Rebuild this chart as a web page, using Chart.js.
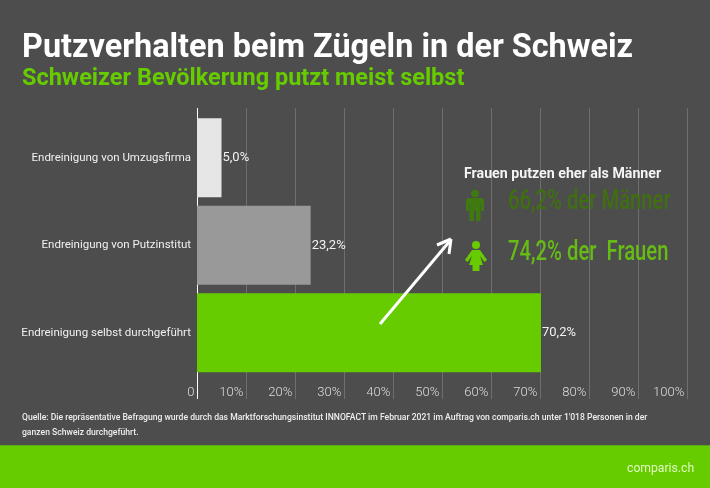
<!DOCTYPE html>
<html>
<head>
<meta charset="utf-8">
<script src="https://cdn.jsdelivr.net/npm/chart.js@4"></script>
<style>
html, body { margin: 0; padding: 0; }
#page { position: relative; width: 710px; height: 488px; background: #4d4d4d; overflow: hidden; font-family: Roboto, sans-serif; }
#page canvas { position: absolute; left: 0; top: 0; }
.txt { position: absolute; white-space: nowrap; }
#title { left: 22px; top: 24px; font-size: 32.4px; font-weight: 700; color: #fff; line-height: 44px; }
#subtitle { left: 22px; top: 62px; font-size: 23.5px; font-weight: 700; color: #66cc00; line-height: 30px; }
#head2 { left: 464px; top: 164px; font-size: 14.2px; font-weight: 700; color: #f4f4f4; line-height: 18px; }
.big { font-size: 27px; font-weight: 500; line-height: 32px; transform-origin: left center; transform: scaleX(0.75); }
#men { left: 508px; top: 184px; color: #3f6f10; }
#women { left: 508px; top: 235px; color: #66bb14; }
#source { left: 22px; top: 410px; font-size: 8.6px; font-weight: 500; color: #eeeeee; line-height: 15px; white-space: normal; width: 640px; }
#footer { position: absolute; left: 0; top: 445px; width: 710px; height: 43px; background: #66cc00; border-top: 1px solid #5aa812; box-sizing: border-box; }
#logo { left: 627px; top: 459px; font-size: 12.2px; font-weight: 400; color: #e0f8c0; line-height: 18px; }
svg { position: absolute; left: 0; top: 0; }
</style>
</head>
<body>
<div id="page">
  <div id="footer"></div>
  <canvas id="myChart" width="710" height="488"></canvas>
  <div class="txt" id="title">Putzverhalten beim Zügeln in der Schweiz</div>
  <div class="txt" id="subtitle">Schweizer Bevölkerung putzt meist selbst</div>
  <div class="txt" id="head2">Frauen putzen eher als Männer</div>
  <div class="txt big" id="men">66,2% der Männer</div>
  <div class="txt big" id="women">74,2% der&nbsp; Frauen</div>
  <div class="txt" id="source">Quelle: Die repräsentative Befragung wurde durch das Marktforschungsinstitut INNOFACT im Februar 2021 im Auftrag von comparis.ch unter 1'018 Personen in der ganzen Schweiz durchgeführt.</div>
  <div class="txt" id="logo">comparis.ch</div>
  <svg width="710" height="488">
    <!-- arrow -->
    <path d="M380 324 L449 242" stroke="#fff" stroke-width="3" fill="none"/>
    <path d="M451 239 L437 245 M451 239 L449 254" stroke="#fff" stroke-width="3" fill="none"/>
    <!-- man -->
    <g fill="#3f7a10">
      <circle cx="475" cy="193.5" r="3.8"/>
      <path d="M469 198 H481 Q484 198 484 201 V211 H481 V204 H480.5 V221 H476 V211 H474 V221 H469.5 V204 H469 V211 H466 V201 Q466 198 469 198 Z"/>
    </g>
    <!-- woman -->
    <g fill="#66cc00">
      <circle cx="476" cy="245" r="4"/>
      <path d="M472 250 H480 L487 260 L484.5 262 L480 256 L483 265 H479.5 V271 H472.5 V265 H469 L472 256 L467.5 262 L465 260 Z"/>
    </g>
  </svg>
</div>
<script>
const categories = ['Endreinigung von Umzugsfirma', 'Endreinigung von Putzinstitut', 'Endreinigung selbst durchgeführt'];
const values = [5.0, 23.2, 70.2];
const valueLabels = ['5,0%', '23,2%', '70,2%'];
const tickLabels = ['0', '10%', '20%', '30%', '40%', '50%', '60%', '70%', '80%', '90%', '100%'];

// long grid lines and the white zero line, they run past the plot area
const gridPlugin = {
    id: 'longGrid',
    beforeDatasetsDraw(chart) {
        const ctx = chart.ctx;
        const x = chart.scales.x;
        ctx.save();
        x.ticks.forEach(function (tick, i) {
            const px = Math.round(x.getPixelForValue(tick.value)) + 0.5;
            ctx.strokeStyle = i === 0 ? '#ffffff' : '#6e6e6e';
            ctx.lineWidth = 1;
            ctx.beginPath();
            ctx.moveTo(px, 108);
            ctx.lineTo(px, 399);
            ctx.stroke();
        });
        ctx.restore();
    }
};

const valueLabelPlugin = {
    id: 'valueLabels',
    afterDatasetsDraw(chart) {
        const ctx = chart.ctx;
        ctx.save();
        ctx.font = '13px Roboto';
        ctx.fillStyle = '#f2f2f2';
        ctx.textAlign = 'left';
        ctx.textBaseline = 'middle';
        chart.getDatasetMeta(0).data.forEach(function (bar, i) {
            ctx.fillText(valueLabels[i], bar.x + 1, bar.y);
        });
        ctx.restore();
    }
};

const ctx = document.getElementById('myChart').getContext('2d');
new Chart(ctx, {
    type: 'bar',
    data: {
        labels: categories,
        datasets: [{
            data: values,
            backgroundColor: ['#e6e6e6', '#999999', '#66cc00'],
            categoryPercentage: 1,
            barPercentage: 0.905
        }]
    },
    options: {
        indexAxis: 'y',
        responsive: false,
        animation: false,
        layout: { padding: { top: 114, right: 23 } },
        plugins: { legend: { display: false }, tooltip: { enabled: false } },
        scales: {
            x: {
                min: 0,
                max: 100,
                afterFit: function (s) { s.height = 111.5; },
                grid: { display: false, drawTicks: false },
                border: { display: false },
                afterBuildTicks: function (s) {
                    s.ticks = tickLabels.map(function (t, i) { return { value: i * 10 }; });
                },
                ticks: {
                    autoSkip: false,
                    maxRotation: 0,
                    align: 'end',
                    padding: 8,
                    color: '#dddddd',
                    font: { family: 'Roboto', size: 13, weight: 300 },
                    callback: function (v, i) { return tickLabels[i] + '\u2009'; }
                }
            },
            y: {
                afterFit: function (s) { s.width = 197; },
                grid: { display: false, drawTicks: false },
                border: { display: false },
                ticks: {
                    padding: 6,
                    color: '#f0f0f0',
                    font: { family: 'Roboto', size: 11.5 }
                }
            }
        }
    },
    plugins: [gridPlugin, valueLabelPlugin]
});
</script>
</body>
</html>
